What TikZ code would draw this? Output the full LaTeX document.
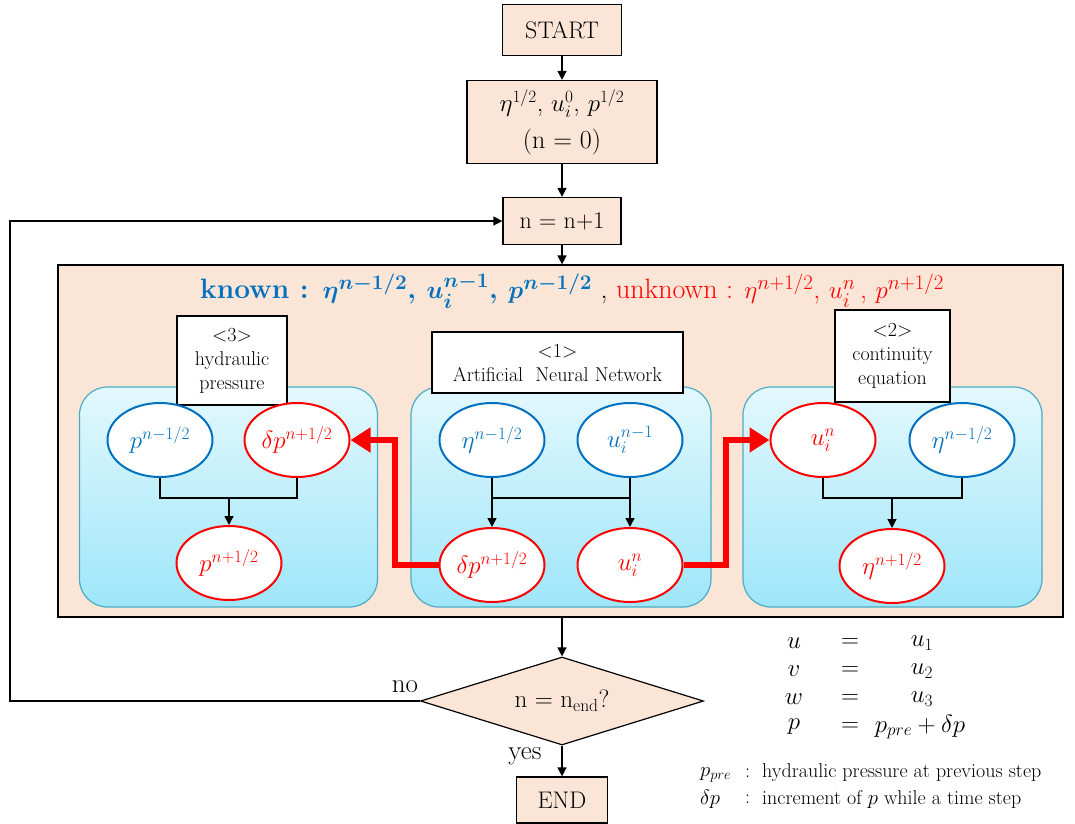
\documentclass[tikz,border=0pt]{standalone}
\usepackage{amsmath,bm}
\usepackage{fontspec}
\usetikzlibrary{shapes.geometric,arrows.meta}
\definecolor{peach}{HTML}{FBE5D6}
\definecolor{myblue}{HTML}{0070C0}
\definecolor{myred}{HTML}{FF0000}
\definecolor{mtop}{HTML}{E3F8FD}
\definecolor{mbot}{HTML}{9EE6F9}
\definecolor{mborder}{HTML}{4BACC6}
\tikzset{
  flow/.style={draw=black, fill=peach, line width=1.2pt, align=center, inner sep=0pt, font=\fontsize{24}{29}\selectfont},
  module/.style={draw=mborder, line width=1.2pt, rounded corners=28pt, top color=mtop, bottom color=mbot, inner sep=0pt},
  lbl/.style={draw=black, fill=white, line width=2.6pt, align=center, inner sep=0pt, font=\fontsize{20}{24}\selectfont},
  ell/.style={ellipse, fill=white, line width=2pt, minimum width=105pt, minimum height=74pt, inner sep=0pt, font=\fontsize{25}{27}\selectfont},
  bell/.style={ell, draw=myblue, text=myblue},
  rell/.style={ell, draw=myred, text=myred},
  conn/.style={draw=black, line width=1.4pt},
  arr/.style={conn, -{Triangle[length=9pt,width=9pt]}},
  bigred/.style={draw=myred, line width=6pt, line join=miter, -{Triangle[length=20pt,width=24pt]}},
}
\begin{document}
\begin{tikzpicture}[x=1pt,y=-1pt]
\useasboundingbox (0,0) rectangle (1075,823);
% main flow boxes
\node[flow, minimum width=119pt, minimum height=51pt] (start) at (562,30) {START};
\node[flow, minimum width=190pt, minimum height=83pt, font=\fontsize{26}{37}\selectfont] (init) at (562,122) {$\eta^{1/2}$, $u_i^0$, $p^{1/2}$\\(n = 0)};
\node[flow, minimum width=118pt, minimum height=47pt] (inc) at (562,221) {n = n+1};
\node[draw=black, fill=peach, line width=1.2pt, minimum width=1005pt, minimum height=352pt, inner sep=0pt] (big) at (560.5,441) {};
\node[inner sep=0pt, font=\fontsize{28}{32}\selectfont] (known) at (572,291) {{\color{myblue}\bfseries known : $\bm{\eta^{n-1/2}}$, $\bm{u_i^{n-1}}$, $\bm{p^{n-1/2}}$} , {\color{myred}unknown : $\eta^{n+1/2}$, $u_i^n$\,, $p^{n+1/2}$}};
% modules
\node[module, minimum width=298pt, minimum height=220pt] (m3) at (228.5,497) {};
\node[module, minimum width=300pt, minimum height=220pt] (m1) at (561,497) {};
\node[module, minimum width=299pt, minimum height=220pt] (m2) at (892.5,497) {};
\node[lbl, minimum width=110pt, minimum height=89pt] (l3) at (232,360.5) {<3>\\hydraulic\\pressure};
\node[lbl, minimum width=251pt, minimum height=61pt] (l1) at (557.5,362.5) {<1>\\Artificial\ \ Neural Network};
\node[lbl, minimum width=115pt, minimum height=92pt] (l2) at (892.5,356) {<2>\\continuity\\equation};
% ellipses
\node[bell] (e3a) at (160,440) {$p^{n-1/2}$};
\node[rell] (e3b) at (297,440) {$\delta p^{n+1/2}$};
\node[rell] (e3c) at (229,563) {$p^{n+1/2}$};
\node[bell] (e1a) at (492,440) {$\eta^{n-1/2}$};
\node[bell] (e1b) at (630,440) {$u_i^{n-1}$};
\node[rell] (e1c) at (492,565) {$\delta p^{n+1/2}$};
\node[rell] (e1d) at (630,565) {$u_i^{n}$};
\node[rell] (e2a) at (823,440) {$u_i^{n}$};
\node[bell] (e2b) at (962,440) {$\eta^{n-1/2}$};
\node[rell] (e2c) at (892,566) {$\eta^{n+1/2}$};
\coordinate (j3) at (229,498);
\coordinate (j1) at (561,498);
\coordinate (j2) at (892,498);
% module connectors
\draw[conn] (e3a.south) |- (e3b.south |- j3) -- (e3b.south);
\draw[arr] (j3) -- (e3c.north);
\draw[arr] (e1a.south) -- (e1c.north);
\draw[arr] (e1b.south) -- (e1d.north);
\draw[conn] (e1a.south |- j1) -- (e1b.south |- j1);
\draw[conn] (e2a.south) |- (e2b.south |- j2) -- (e2b.south);
\draw[arr] (j2) -- (e2c.north);
% red arrows
\coordinate (cl) at (395,500);
\coordinate (cr) at (726,500);
\draw[bigred] (e1c.west) -| (cl) |- (e3b.east);
\draw[bigred] (e1d.east) -| (cr) |- (e2a.west);
% decision & end
\node[diamond, draw=black, fill=peach, line width=1.2pt, aspect=3.2, minimum width=283pt, minimum height=88pt, inner sep=0pt, font=\fontsize{25}{28}\selectfont] (dia) at (562,701) {n = n\textsubscript{end}?};
\node[flow, minimum width=91pt, minimum height=46pt] (end) at (562,800) {END};
\coordinate (lp) at (10,701);
\draw[arr] (start.south) -- (init.north);
\draw[arr] (init.south) -- (inc.north);
\draw[arr] (inc.south) -- (inc.south |- big.north);
\draw[arr] (big.south -| dia.north) -- (dia.north);
\draw[arr] (dia.south) -- (end.north);
\draw[arr] (dia.west) -- (lp) |- (inc.west);
\node[font=\fontsize{27}{30}\selectfont, inner sep=0pt] (no) at (405,687) {no};
\node[font=\fontsize{27}{30}\selectfont, inner sep=0pt] (yes) at (525,756) {yes};
% equations
\begin{scope}[every node/.style={inner sep=0pt, font=\fontsize{25}{28}\selectfont}]
\node (eq1a) at (794,643) {$u$};
\node (eq1b) at (850,643) {$=$};
\node (eq1c) at (922,643) {$u_1$};
\node (eq2a) at (794,671) {$v$};
\node (eq2b) at (850,671) {$=$};
\node (eq2c) at (922,671) {$u_2$};
\node (eq3a) at (794,699) {$w$};
\node (eq3b) at (850,699) {$=$};
\node (eq3c) at (922,699) {$u_3$};
\node (eq4a) at (794,727) {$p$};
\node (eq4b) at (850,727) {$=$};
\node (eq4c) at (920,727) {$p_{pre}+\delta p$};
\end{scope}
\begin{scope}[every node/.style={inner sep=0pt, anchor=west, font=\fontsize{20}{24}\selectfont}]
\node (f1a) at (700,775) {$p_{pre}$};
\node (f1b) at (745,773) {:};
\node (f1c) at (762,773) {hydraulic pressure at previous step};
\node (f2a) at (700,799) {$\delta p$};
\node (f2b) at (745,799) {:};
\node (f2c) at (762,799) {increment of $p$ while a time step};
\end{scope}
\end{tikzpicture}
\end{document}
